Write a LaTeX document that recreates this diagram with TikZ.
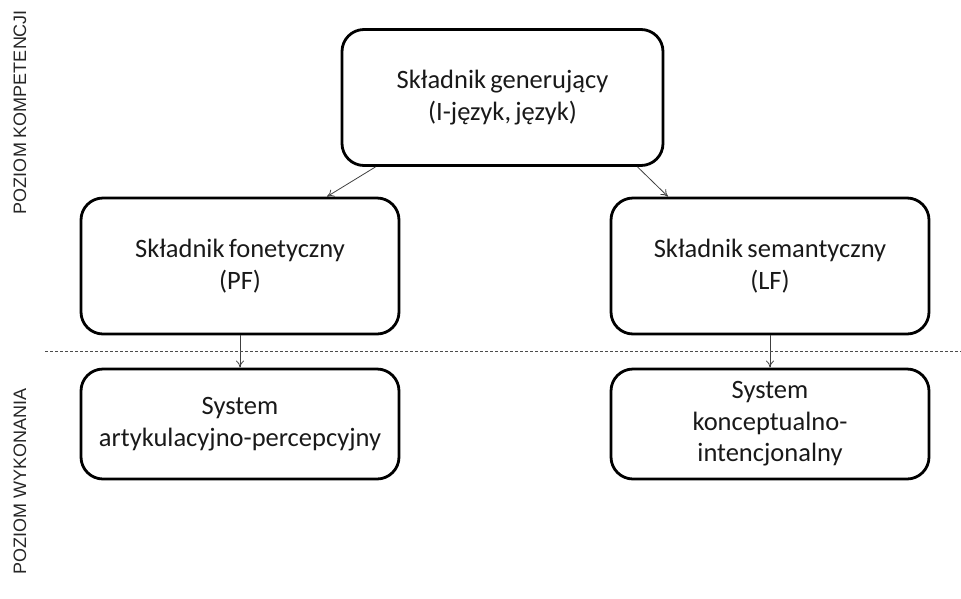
\documentclass[tikz,border=0pt]{standalone}
\usepackage{fontspec}
\setmainfont{Carlito}[WordSpace={0.7,0.3,0.3}]
\newfontfamily\labfont{Liberation Sans}
\usetikzlibrary{arrows.meta}

\tikzset{
  skladnik/.style = {draw, line width = 2.8pt, rounded corners = 22pt,
                     minimum width = 318pt, minimum height = 136pt,
                     align = center, font = \fontsize{26.5}{31.5}\selectfont, text = black!90},
  wykon/.style    = {skladnik, minimum height = 110pt, inner sep = 2pt},
  strz/.style     = {-{To[length=7pt,width=8pt]}, line width = 0.8pt, black!75},
  poziom/.style   = {rotate = 90, font = \labfont\fontsize{18}{20}\selectfont, text = black!85}
}

\begin{document}
\begin{tikzpicture}[x = 1pt, y = -1pt]
  \useasboundingbox (0,0) rectangle (961,598);

  % poziom kompetencji
  \node[skladnik, minimum width = 321pt] (gen) at (502.5,97.5) {Składnik generujący\\(I-język, język)};
  \node[skladnik] (fon) at (240,266) {Składnik fonetyczny\\(PF)};
  \node[skladnik] (sem) at (770,266) {Składnik semantyczny\\(LF)};

  % poziom wykonania
  \node[wykon] (art) at (240,424) {System\\artykulacyjno-percepcyjny};
  \node[wykon] (kon) at (770,424) {System\\konceptualno-\\intencjonalny};

  \draw[strz] ([xshift=-127pt]gen.south) -- ([xshift=87pt]fon.north);
  \draw[strz] ([xshift=135pt]gen.south) -- ([xshift=-102pt]sem.north);
  \draw[strz] (fon) -- (art);
  \draw[strz] (sem) -- (kon);

  % granica
  \coordinate (g1) at (45,351);
  \coordinate (g2) at (961,351);
  \draw[dashed, line width = 0.7pt, black!70, dash pattern = on 3pt off 2pt] (g1) -- (g2);

  \node[poziom] (komp) at (20,112) {POZIOM KOMPETENCJI};
  \node[poziom] (wyk) at (20,481) {POZIOM WYKONANIA};
\end{tikzpicture}
\end{document}
